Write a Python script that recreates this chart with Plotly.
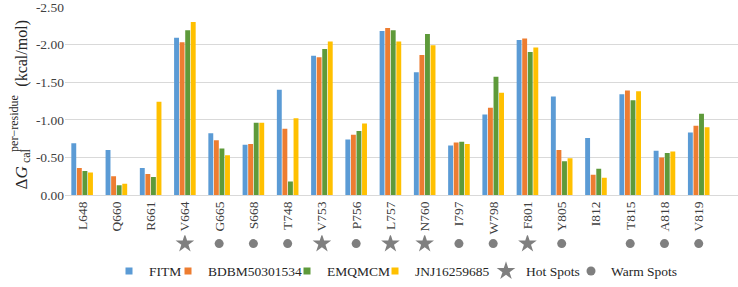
import plotly.graph_objects as go

categories = ["L648", "Q660", "R661", "V664", "G665", "S668", "T748", "V753", "P756",
              "L757", "N760", "I797", "W798", "F801", "Y805", "I812", "T815", "A818", "V819"]

fitm = [-0.69, -0.60, -0.36, -2.09, -0.82, -0.67, -1.40, -1.85, -0.74,
        -2.18, -1.63, -0.66, -1.07, -2.06, -1.31, -0.76, -1.34, -0.59, -0.83]
bdbm = [-0.36, -0.25, -0.28, -2.03, -0.73, -0.68, -0.88, -1.83, -0.80,
        -2.22, -1.86, -0.70, -1.16, -2.08, -0.60, -0.27, -1.39, -0.50, -0.92]
emqmcm = [-0.32, -0.13, -0.24, -2.19, -0.62, -0.96, -0.18, -1.94, -0.85,
          -2.19, -2.14, -0.71, -1.57, -1.90, -0.45, -0.35, -1.26, -0.56, -1.08]
jnj = [-0.30, -0.15, -1.24, -2.30, -0.53, -0.96, -1.02, -2.04, -0.95,
       -2.04, -1.99, -0.68, -1.36, -1.96, -0.49, -0.23, -1.38, -0.58, -0.90]

spots = ["", "", "", "hot", "warm", "warm", "warm", "hot", "warm",
         "hot", "hot", "warm", "warm", "hot", "warm", "", "warm", "warm", "warm"]

series_names = ["FITM", "BDBM50301534", "EMQMCM", "JNJ16259685"]
series_values = [fitm, bdbm, emqmcm, jnj]
colors = ["#5B9BD5", "#ED7D31", "#5E9A3A", "#FFC000"]

y_ticks = [0.0, -0.5, -1.0, -1.5, -2.0, -2.5]
y_tick_text = ["0.00", "-0.50", "-1.00", "-1.50", "-2.00", "-2.50"]

FONT = "Liberation Serif"
W, H = 738, 287
ML, MR, MT, MB = 65, 0, 0, 0
PW = W - ML - MR
PH = H - MT - MB


def px_x(p):
    return (p - ML) / PW


def px_y(p):
    return (H - MB - p) / PH


fig = go.Figure()

for name, vals, col in zip(series_names, series_values, colors):
    fig.add_trace(go.Bar(x=categories, y=vals, name=name, marker_color=col,
                         marker_line_width=0, showlegend=False,
                         xaxis="x", yaxis="y"))

legend_ids = ["legend", "legend2", "legend3", "legend4", "legend5", "legend6"]
legend_text_start = [141, 200, 319, 407, 518, 603]

for name, col, lid in zip(series_names, colors, legend_ids):
    fig.add_trace(go.Scatter(x=[None], y=[None], mode="markers", name=name,
                             marker=dict(symbol="square", size=7, color=col),
                             xaxis="x", yaxis="y", legend=lid))

hot_x = [c for c, s in zip(categories, spots) if s == "hot"]
warm_x = [c for c, s in zip(categories, spots) if s == "warm"]

fig.add_trace(go.Scatter(x=hot_x, y=[0.5] * len(hot_x), mode="markers", name="Hot Spots",
                         marker=dict(symbol="star", size=14, color="#7F7F7F"),
                         xaxis="x", yaxis="y2", legend="legend5"))
fig.add_trace(go.Scatter(x=warm_x, y=[0.5] * len(warm_x), mode="markers", name="Warm Spots",
                         marker=dict(symbol="circle", size=9, color="#7F7F7F"),
                         xaxis="x", yaxis="y2", legend="legend6"))

layout_legends = {}
for lid, tx in zip(legend_ids, legend_text_start):
    layout_legends[lid] = dict(orientation="h", x=px_x(tx - 32), xanchor="left",
                               y=px_y(278), yanchor="middle",
                               font=dict(family=FONT, size=13.5, color="#262626"),
                               itemwidth=30, bgcolor="rgba(0,0,0,0)")

fig.update_layout(
    width=W, height=H,
    margin=dict(l=ML, r=MR, t=MT, b=MB, pad=0),
    paper_bgcolor="white", plot_bgcolor="white",
    barmode="group", bargap=0.35, bargroupgap=0.12,
    font=dict(family=FONT, size=13, color="#404040"),
    xaxis=dict(type="category", categoryorder="array", categoryarray=categories,
               tickangle=-90, showgrid=False, showline=True, linecolor="#D9D9D9",
               linewidth=1, ticks="", anchor="y", automargin=False,
               tickfont=dict(family=FONT, size=13.5, color="#404040")),
    yaxis=dict(domain=[px_y(200), px_y(7)], range=[0, -2.5], tickvals=y_ticks,
               ticktext=y_tick_text, showgrid=True, gridcolor="#D9D9D9", gridwidth=1,
               zeroline=False, showline=False, ticks="", anchor="x", automargin=False,
               ticklabeloverflow="allow",
               tickfont=dict(family=FONT, size=13.5, color="#404040")),
    yaxis2=dict(domain=[0.10, 0.16], range=[0, 1], visible=False, anchor="x",
                fixedrange=True),
    showlegend=True,
    **layout_legends,
)

title_parts = [
    ("Δ<i>G</i>", 22, 183, 17),
    ("per−residue", 14, 127, 12),
    ("cal", 26, 160, 12),
    ("(kcal/mol)", 22, 55, 16),
]
for txt, xp, yp, fs in title_parts:
    fig.add_annotation(text=txt, xref="paper", yref="paper", x=px_x(xp), y=px_y(yp),
                       xanchor="center", yanchor="middle", textangle=-90,
                       showarrow=False, font=dict(family=FONT, size=fs, color="#262626"))

fig.write_html("out.html", config={"displayModeBar": False},
               post_script="document.body.style.margin='0';document.body.style.padding='0';")
